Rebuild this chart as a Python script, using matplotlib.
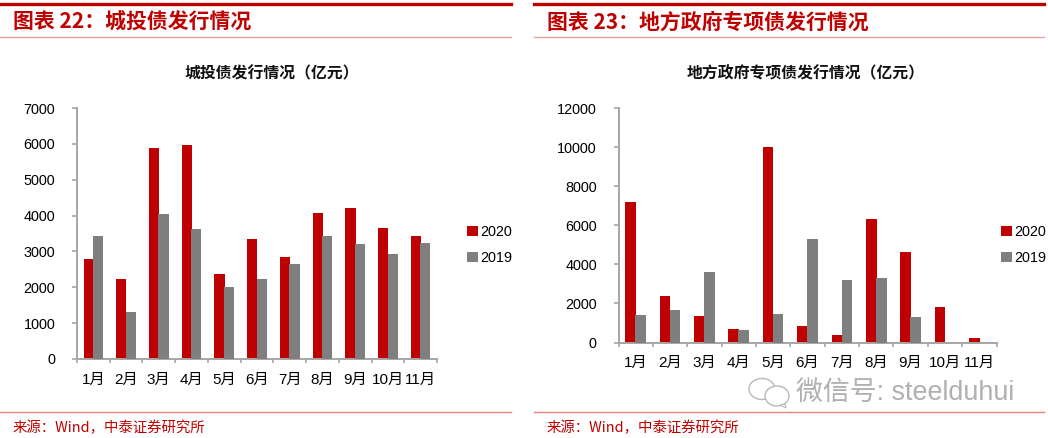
import matplotlib
matplotlib.use('Agg')
import numpy as np
import matplotlib.pyplot as plt
from matplotlib.patches import Ellipse, Polygon

W, H = 1048, 438
RED = '#C00000'
GRAY = '#7F7F7F'
AXIS = '#A6A6A6'
CJK = 'Noto Sans CJK SC'
MIX = ['Liberation Sans', CJK]

months = ['1月', '2月', '3月', '4月', '5月', '6月', '7月', '8月', '9月', '10月', '11月']

lgfv_2020 = [2800, 2230, 5890, 5970, 2370, 3350, 2840, 4080, 4220, 3660, 3440]
lgfv_2019 = [3430, 1300, 4050, 3620, 2000, 2230, 2650, 3430, 3210, 2920, 3230]
lgfv_ticks = [0, 1000, 2000, 3000, 4000, 5000, 6000, 7000]

special_2020 = [7170, 2370, 1350, 700, 10000, 830, 370, 6330, 4650, 1830, 220]
special_2019 = [1420, 1680, 3600, 650, 1450, 5300, 3200, 3320, 1280, 0, 0]
special_ticks = [0, 2000, 4000, 6000, 8000, 10000, 12000]

fig = plt.figure(figsize=(W / 100, H / 100), dpi=100)


def fx(px):
    return px / W


def fy(py):
    return 1 - py / H


def hline(x0, x1, y, color, lw):
    fig.add_artist(plt.Line2D([fx(x0), fx(x1)], [fy(y), fy(y)], color=color, lw=lw))


def panel(box, y2020, y2019, ticks, title, title_x, heading, head_x, x0, x1, legend_x):
    left, right, top, bottom = box
    ax = fig.add_axes([fx(left), fy(bottom), fx(right - left), (bottom - top) / H])
    x = np.arange(len(months))
    ax.bar(x - 0.145, y2020, 0.31, color=RED, label='2020', zorder=2)
    ax.bar(x + 0.145, y2019, 0.31, color=GRAY, label='2019', zorder=3)
    ax.set_xlim(-0.5, len(months) - 0.5)
    ax.set_ylim(ticks[0], ticks[-1])
    ax.set_yticks(ticks)
    ax.set_xticks(x)
    ax.set_xticklabels(months, family=MIX, fontsize=11, color='black')
    ax.set_xticks(np.arange(len(months) + 1) - 0.5, minor=True)
    ax.tick_params(axis='x', which='major', length=0, pad=10)
    ax.tick_params(axis='x', which='minor', length=3, width=1.2, color=AXIS)
    ax.tick_params(axis='y', length=3.6, width=1.2, color=AXIS, pad=12)
    for t in ax.get_yticklabels():
        t.set_family(MIX)
        t.set_fontsize(10.4)
    for s in ['top', 'right']:
        ax.spines[s].set_visible(False)
    for s in ['left', 'bottom']:
        ax.spines[s].set_color(AXIS)
        ax.spines[s].set_linewidth(1.4)

    fig.legend(*ax.get_legend_handles_labels(), loc='center left',
               bbox_to_anchor=(fx(legend_x), fy(245)), frameon=False,
               prop={'family': MIX, 'size': 10.4}, handlelength=0.75, handleheight=0.75,
               handletextpad=0.15, labelspacing=0.85, borderpad=0, borderaxespad=0)

    fig.text(fx(title_x), fy(73), title, family=CJK, fontweight='bold', fontsize=11.4,
             ha='center', va='center', color='#111111')
    fig.text(fx(head_x), fy(22), heading, family=[CJK], fontweight='bold', fontsize=15,
             ha='left', va='center', color=RED)
    fig.text(fx(head_x), fy(428), '来源：Wind，中泰证券研究所', family=[CJK], fontsize=10.4,
             ha='left', va='center', color=RED)
    hline(x0, x1, 4, RED, 2.4)
    hline(x0, x1, 37, '#EFA0A0', 1)
    hline(x0, x1, 412, '#EC8080', 1)


panel((77, 437, 108, 359), lgfv_2020, lgfv_2019, lgfv_ticks,
      '城投债发行情况（亿元）', 272, '图表 22：城投债发行情况', 13, 0, 511, 467)
panel((618.5, 996.5, 108, 342.5), special_2020, special_2019, special_ticks,
      '地方政府专项债发行情况（亿元）', 806, '图表 23：地方政府专项债发行情况', 547, 534, 1044, 1001)

# watermark, bottom right
fig.text(fx(796), fy(393), '微信号: steelduhui', family=MIX, fontsize=19.4,
         ha='left', va='center', color='#B0B0B0')
for cx, cy, w, h in [(762, 389, 26, 21), (777, 396, 24, 20)]:
    fig.add_artist(Ellipse((fx(cx), fy(cy)), fx(w), h / H, facecolor='white',
                           edgecolor='#B8B8B8', lw=1))
fig.add_artist(Polygon([(fx(785), fy(404)), (fx(786), fy(408)), (fx(780), fy(405))],
                       closed=True, facecolor='white', edgecolor='#B8B8B8', lw=0.8))

fig.savefig('out.png', dpi=100)
